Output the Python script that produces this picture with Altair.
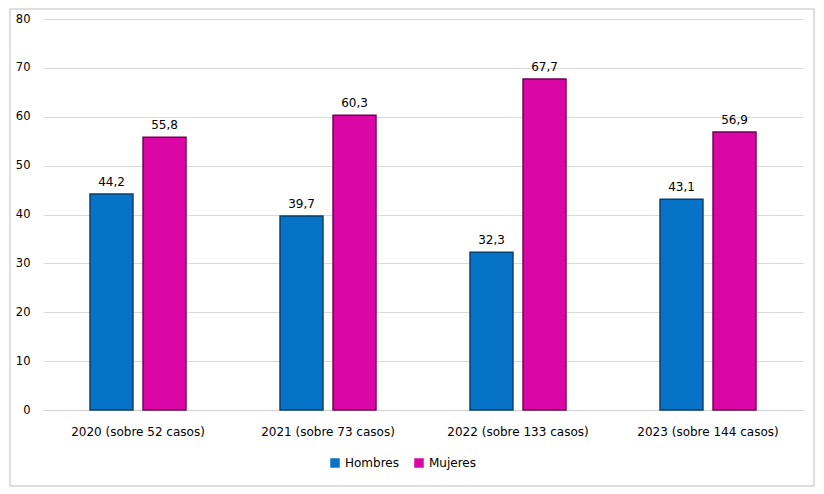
import altair as alt
import pandas as pd

years = ["2020 (sobre 52 casos)", "2021 (sobre 73 casos)", "2022 (sobre 133 casos)", "2023 (sobre 144 casos)"]
hombres = [44.2, 39.7, 32.3, 43.1]
mujeres = [55.8, 60.3, 67.7, 56.9]
series = ["Hombres", "Mujeres"]
colors = ["#0773C6", "#DA06A6"]
strokes = ["#06406E", "#6E0254"]

rows = []
for i, y in enumerate(years):
    for s, vals in zip(series, [hombres, mujeres]):
        v = vals[i]
        rows.append({"year": y, "sexo": s, "value": v, "label": f"{v:.1f}".replace(".", ",")})
df = pd.DataFrame(rows)

FONT = "DejaVu Sans"

x = alt.X("year:N", sort=years, title=None,
          scale=alt.Scale(paddingInner=0.495, paddingOuter=0.2475),
          axis=alt.Axis(labelAngle=0, labelFontSize=12, labelFont=FONT, labelColor="#000",
                        ticks=False, domainColor="#d0d0d0", labelPadding=16))
xo = alt.XOffset("sexo:N", sort=series, scale=alt.Scale(paddingInner=0.19))
y = alt.Y("value:Q", title=None,
          scale=alt.Scale(domain=[0, 80]),
          axis=alt.Axis(values=list(range(0, 81, 10)), labelFontSize=11.5, labelFont=FONT,
                        labelColor="#000", ticks=False, domain=False,
                        gridColor="#d9d9d9", labelPadding=13))

bars = alt.Chart(df).mark_bar(strokeWidth=1.5).encode(
    x=x, xOffset=xo, y=y,
    color=alt.Color("sexo:N", sort=series, scale=alt.Scale(domain=series, range=colors),
                    legend=alt.Legend(title=None, orient="none", legendX=286, legendY=438,
                                      direction="horizontal",
                                      symbolType="square", symbolSize=90, labelFontSize=12,
                                      labelFont=FONT, labelColor="#000",
                                      columnPadding=14, symbolStrokeWidth=0)),
    stroke=alt.Stroke("sexo:N", sort=series, scale=alt.Scale(domain=series, range=strokes), legend=None),
)

labels = alt.Chart(df).mark_text(dy=-12, fontSize=12, font=FONT, color="#000").encode(
    x=x, xOffset=xo, y=y, text="label:N"
)

border = alt.Chart(pd.DataFrame({"a": [0]})).mark_rect(
    fill=None, stroke="#d4d4d4", strokeWidth=1.5).encode(
    x=alt.value(-33), x2=alt.value(771), y=alt.value(-10), y2=alt.value(467))

chart = alt.layer(bars, labels, border).properties(
    width=760, height=391,
    autosize=alt.AutoSizeParams(type="none"),
    padding={"left": 35, "top": 11, "right": 12, "bottom": 78},
    background="white",
).configure_view(stroke=None)

chart.save("out.html", embed_options={"renderer": "svg", "actions": False})
